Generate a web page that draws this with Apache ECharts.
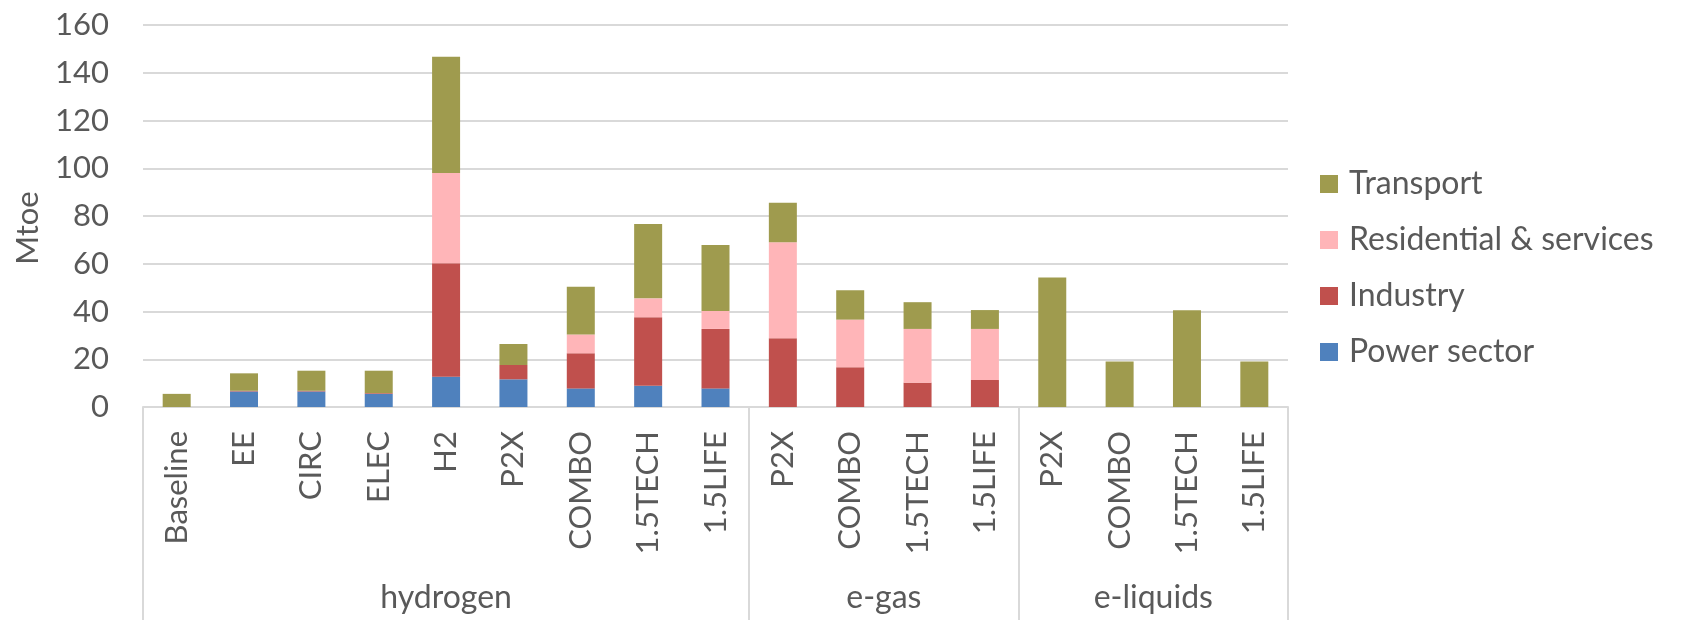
<!DOCTYPE html>
<html>
<head>
<meta charset="utf-8">
<script src="https://cdn.jsdelivr.net/npm/echarts@6/dist/echarts.min.js"></script>
<style>
  html, body { margin: 0; padding: 0; background: #fff; }
  #main { width: 1688px; height: 620px; }
</style>
</head>
<body>
<div id="main"></div>
<script>
// scenarios, grouped by carrier
const categories = ['Baseline', 'EE', 'CIRC', 'ELEC', 'H2', 'P2X', 'COMBO', '1.5TECH', '1.5LIFE',
  'P2X', 'COMBO', '1.5TECH', '1.5LIFE',
  'P2X', 'COMBO', '1.5TECH', '1.5LIFE']
const groups = ['hydrogen', 'e-gas', 'e-liquids']
const groupSizes = [9, 4, 4]

// Mtoe per sector
const powerSector = [0, 6.5, 6.5, 5.5, 12.7, 11.6, 7.8, 8.9, 7.8, 0, 0, 0, 0, 0, 0, 0, 0]
const industry = [0, 0.3, 0.3, 0.3, 47.5, 6.0, 14.7, 28.7, 24.9, 28.8, 16.6, 10.2, 11.3, 0, 0, 0, 0]
const residential = [0, 0, 0, 0, 37.8, 0, 7.9, 7.9, 7.5, 40.2, 20.0, 22.5, 21.4, 0, 0, 0, 0]
const transport = [5.5, 7.3, 8.4, 9.4, 48.7, 8.8, 20.0, 31.1, 27.7, 16.6, 12.3, 11.2, 7.9, 54.2, 19.1, 40.5, 19.1]

const yTicks = { min: 0, max: 160, interval: 20 }

// group boundaries and centres on a 0..17 value scale
const bounds = [0]
const centres = []
groupSizes.forEach((n) => {
  const start = bounds[bounds.length - 1]
  centres.push(start + n / 2)
  bounds.push(start + n)
})

const font = 'Lato, "Liberation Sans", sans-serif'
const textColor = '#595959'
const lineColor = '#d9d9d9'

const chart = echarts.init(document.getElementById('main'))

const option = {
  animation: false,
  textStyle: { fontFamily: font },
  grid: { left: 143, right: 400, top: 25, bottom: 213 },
  legend: {
    orient: 'vertical',
    left: 1315,
    top: 163,
    itemWidth: 18,
    itemHeight: 18,
    itemGap: 24,
    icon: 'rect',
    data: ['Transport', 'Residential & services', 'Industry', 'Power sector'],
    textStyle: { fontSize: 32, color: textColor, lineHeight: 32, padding: [0, 0, 0, 6], fontFamily: font }
  },
  xAxis: [
    {
      type: 'category',
      data: categories,
      axisTick: { show: false },
      axisLine: { lineStyle: { color: lineColor, width: 2 } },
      axisLabel: { rotate: 90, margin: 24, fontSize: 31, color: textColor, interval: 0, fontFamily: font }
    },
    {
      type: 'value',
      position: 'bottom',
      min: 0,
      max: categories.length,
      axisLine: { show: false },
      splitLine: { show: false },
      axisTick: {
        show: true,
        length: 213,
        customValues: bounds,
        lineStyle: { color: lineColor, width: 2 }
      },
      axisLabel: {
        customValues: centres,
        margin: 175,
        fontSize: 32,
        color: textColor,
        fontFamily: font,
        formatter: (v) => groups[centres.indexOf(v)]
      }
    }
  ],
  yAxis: {
    type: 'value',
    min: yTicks.min,
    max: yTicks.max,
    interval: yTicks.interval,
    name: 'Mtoe',
    nameLocation: 'middle',
    nameRotate: 90,
    nameGap: 100,
    nameTextStyle: { fontSize: 31, color: textColor, fontFamily: font, padding: [0, 24, 0, 0] },
    axisLine: { show: false },
    axisTick: { show: false },
    axisLabel: { fontSize: 31, color: textColor, margin: 34, fontFamily: font },
    splitLine: { lineStyle: { color: lineColor, width: 2 } }
  },
  series: [
    { name: 'Power sector', type: 'bar', stack: 'total', data: powerSector, barWidth: 28, itemStyle: { color: '#4F81BD' } },
    { name: 'Industry', type: 'bar', stack: 'total', data: industry, barWidth: 28, itemStyle: { color: '#C0504D' } },
    { name: 'Residential & services', type: 'bar', stack: 'total', data: residential, barWidth: 28, itemStyle: { color: '#FFB5B8' } },
    { name: 'Transport', type: 'bar', stack: 'total', data: transport, barWidth: 28, itemStyle: { color: '#9F9B4E' } }
  ]
}

chart.setOption(option)
</script>
</body>
</html>
